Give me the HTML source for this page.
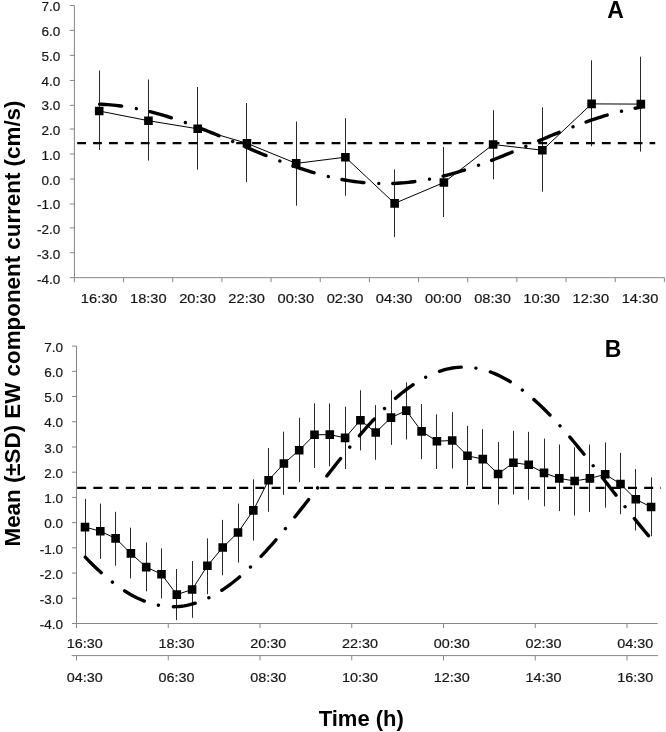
<!DOCTYPE html>
<html><head><meta charset="utf-8"><style>
html,body{margin:0;padding:0;background:#fff;}
svg{display:block;will-change:transform;}
.tl{font-family:"Liberation Sans",sans-serif;font-size:13.5px;fill:#151515;stroke:#151515;stroke-width:0.2px;}
.big{font-family:"Liberation Sans",sans-serif;font-size:23px;font-weight:bold;fill:#000;}
.ttl{font-family:"Liberation Sans",sans-serif;font-size:22.5px;font-weight:bold;fill:#000;}
.ttl2{font-family:"Liberation Sans",sans-serif;font-size:22px;font-weight:bold;fill:#000;}
</style></head><body>
<svg width="666" height="732" viewBox="0 0 666 732">
<path d="M74.4 5.5 V277.66 H664.4" fill="none" stroke="#868686" stroke-width="1"/>
<path d="M69.9 5.50 H74.4 M69.9 30.40 H74.4 M69.9 55.40 H74.4 M69.9 80.45 H74.4 M69.9 105.36 H74.4 M69.9 129.00 H74.4 M69.9 154.00 H74.4 M69.9 179.00 H74.4 M69.9 203.95 H74.4 M69.9 227.90 H74.4 M69.9 252.70 H74.4 M69.9 277.66 H74.4 M74.40 277.66 V282.16 M123.57 277.66 V282.16 M172.73 277.66 V282.16 M221.90 277.66 V282.16 M271.07 277.66 V282.16 M320.23 277.66 V282.16 M369.40 277.66 V282.16 M418.57 277.66 V282.16 M467.73 277.66 V282.16 M516.90 277.66 V282.16 M566.07 277.66 V282.16 M615.23 277.66 V282.16 M664.40 277.66 V282.16" fill="none" stroke="#868686" stroke-width="1"/>
<text x="60.2" y="11.40" class="tl" text-anchor="end">7.0</text>
<text x="60.2" y="36.14" class="tl" text-anchor="end">6.0</text>
<text x="60.2" y="60.88" class="tl" text-anchor="end">5.0</text>
<text x="60.2" y="85.63" class="tl" text-anchor="end">4.0</text>
<text x="60.2" y="110.37" class="tl" text-anchor="end">3.0</text>
<text x="60.2" y="135.11" class="tl" text-anchor="end">2.0</text>
<text x="60.2" y="159.85" class="tl" text-anchor="end">1.0</text>
<text x="60.2" y="184.59" class="tl" text-anchor="end">0.0</text>
<text x="60.2" y="209.33" class="tl" text-anchor="end">-1.0</text>
<text x="60.2" y="234.08" class="tl" text-anchor="end">-2.0</text>
<text x="60.2" y="258.82" class="tl" text-anchor="end">-3.0</text>
<text x="60.2" y="283.56" class="tl" text-anchor="end">-4.0</text>
<text x="99.18" y="302.9" class="tl" text-anchor="middle" textLength="36.6" lengthAdjust="spacingAndGlyphs">16:30</text>
<text x="148.35" y="302.9" class="tl" text-anchor="middle" textLength="36.6" lengthAdjust="spacingAndGlyphs">18:30</text>
<text x="197.52" y="302.9" class="tl" text-anchor="middle" textLength="36.6" lengthAdjust="spacingAndGlyphs">20:30</text>
<text x="246.68" y="302.9" class="tl" text-anchor="middle" textLength="36.6" lengthAdjust="spacingAndGlyphs">22:30</text>
<text x="295.85" y="302.9" class="tl" text-anchor="middle" textLength="36.6" lengthAdjust="spacingAndGlyphs">00:30</text>
<text x="345.02" y="302.9" class="tl" text-anchor="middle" textLength="36.6" lengthAdjust="spacingAndGlyphs">02:30</text>
<text x="394.18" y="302.9" class="tl" text-anchor="middle" textLength="36.6" lengthAdjust="spacingAndGlyphs">04:30</text>
<text x="443.35" y="302.9" class="tl" text-anchor="middle" textLength="36.6" lengthAdjust="spacingAndGlyphs">00:00</text>
<text x="492.52" y="302.9" class="tl" text-anchor="middle" textLength="36.6" lengthAdjust="spacingAndGlyphs">08:30</text>
<text x="541.68" y="302.9" class="tl" text-anchor="middle" textLength="36.6" lengthAdjust="spacingAndGlyphs">10:30</text>
<text x="590.85" y="302.9" class="tl" text-anchor="middle" textLength="36.6" lengthAdjust="spacingAndGlyphs">12:30</text>
<text x="640.02" y="302.9" class="tl" text-anchor="middle" textLength="36.6" lengthAdjust="spacingAndGlyphs">14:30</text>
<path d="M99.5 70.5 V150.0 M148.5 79.5 V160.6 M197.5 87.0 V169.6 M246.5 103.0 V182.0 M296.5 121.5 V205.7 M345.5 118.2 V195.8 M394.5 169.4 V237.1 M443.5 147.0 V217.0 M493.5 110.2 V179.3 M542.5 107.3 V191.7 M591.5 60.3 V146.3 M640.5 56.7 V151.6" stroke="#2a2a2a" stroke-width="1" fill="none"/>
<path d="M77.2 143.2 H655.2" stroke="#000" stroke-width="2.3" stroke-dasharray="8.8 7.1" fill="none"/>
<polyline points="99.2,111.0 148.4,120.7 197.7,128.8 246.9,143.3 296.2,163.4 345.4,157.2 394.6,203.4 443.9,182.5 493.1,144.5 542.4,150.2 591.6,103.9 640.8,104.1" fill="none" stroke="#000" stroke-width="1"/>
<polyline points="99.60,104.16 102.31,104.29 105.02,104.44 107.73,104.63 110.43,104.85 113.14,105.10 115.85,105.39 118.56,105.70 121.27,106.05 123.98,106.43 126.68,106.85 129.39,107.29 132.10,107.76 134.81,108.27 137.52,108.80 140.23,109.37 142.94,109.96 145.64,110.58 148.35,111.23 151.06,111.90 153.77,112.61 156.48,113.34 159.19,114.09 161.90,114.87 164.60,115.67 167.31,116.50 170.02,117.35 172.73,118.22 175.44,119.12 178.15,120.03 180.85,120.97 183.56,121.92 186.27,122.89 188.98,123.88 191.69,124.89 194.40,125.91 197.11,126.95 199.81,128.00 202.52,129.06 205.23,130.14 207.94,131.23 210.65,132.32 213.36,133.43 216.07,134.55 218.77,135.68 221.48,136.81 224.19,137.94 226.90,139.09 229.61,140.23 232.32,141.38 235.02,142.53 237.73,143.69 240.44,144.84 243.15,145.99 245.86,147.14 248.57,148.29 251.28,149.43 253.98,150.57 256.69,151.70 259.40,152.83 262.11,153.95 264.82,155.06 267.53,156.16 270.24,157.25 272.94,158.33 275.65,159.39 278.36,160.45 281.07,161.49 283.78,162.51 286.49,163.52 289.19,164.52 291.90,165.49 294.61,166.45 297.32,167.39 300.03,168.30 302.74,169.20 305.45,170.08 308.15,170.93 310.86,171.77 313.57,172.57 316.28,173.36 318.99,174.12 321.70,174.85 324.41,175.56 327.11,176.24 329.82,176.89 332.53,177.52 335.24,178.12 337.95,178.69 340.66,179.23 343.36,179.74 346.07,180.22 348.78,180.67 351.49,181.09 354.20,181.47 356.91,181.83 359.62,182.15 362.32,182.45 365.03,182.71 367.74,182.93 370.45,183.13 373.16,183.29 375.87,183.41 378.58,183.51 381.28,183.57 383.99,183.60 386.70,183.59 389.41,183.55 392.12,183.48 394.83,183.38 397.53,183.24 400.24,183.07 402.95,182.86 405.66,182.62 408.37,182.35 411.08,182.05 413.79,181.72 416.49,181.35 419.20,180.95 421.91,180.52 424.62,180.06 427.33,179.57 430.04,179.05 432.75,178.50 435.45,177.93 438.16,177.32 440.87,176.68 443.58,176.02 446.29,175.33 449.00,174.61 451.70,173.87 454.41,173.10 457.12,172.31 459.83,171.49 462.54,170.65 465.25,169.79 467.96,168.91 470.66,168.00 473.37,167.08 476.08,166.13 478.79,165.17 481.50,164.19 484.21,163.19 486.92,162.18 489.62,161.15 492.33,160.10 495.04,159.04 497.75,157.97 500.46,156.89 503.17,155.80 505.87,154.69 508.58,153.58 511.29,152.46 514.00,151.33 516.71,150.19 519.42,149.05 522.13,147.91 524.83,146.76 527.54,145.61 530.25,144.46 532.96,143.31 535.67,142.15 538.38,141.00 541.09,139.85 543.79,138.71 546.50,137.57 549.21,136.43 551.92,135.30 554.63,134.18 557.34,133.07 560.04,131.96 562.75,130.87 565.46,129.78 568.17,128.71 570.88,127.65 573.59,126.60 576.30,125.57 579.00,124.55 581.71,123.55 584.42,122.57 587.13,121.60 589.84,120.66 592.55,119.73 595.26,118.82 597.96,117.93 600.67,117.07 603.38,116.23 606.09,115.41 608.80,114.61 611.51,113.84 614.21,113.09 616.92,112.37 619.63,111.68 622.34,111.01 625.05,110.37 627.76,109.76 630.47,109.18 633.17,108.62 635.88,108.10 638.59,107.60 641.30,107.14" fill="none" stroke="#000" stroke-width="3.4" stroke-linecap="round" stroke-dasharray="22.2 14.87 0.01 13.92"/>
<path d="M94.90 106.70h8.6v8.6h-8.6z M144.14 116.40h8.6v8.6h-8.6z M193.38 124.50h8.6v8.6h-8.6z M242.62 139.00h8.6v8.6h-8.6z M291.86 159.10h8.6v8.6h-8.6z M341.10 152.90h8.6v8.6h-8.6z M390.34 199.10h8.6v8.6h-8.6z M439.58 178.20h8.6v8.6h-8.6z M488.82 140.20h8.6v8.6h-8.6z M538.06 145.90h8.6v8.6h-8.6z M587.30 99.60h8.6v8.6h-8.6z M636.54 99.80h8.6v8.6h-8.6z" fill="#000"/>
<text x="607.2" y="17.5" class="big">A</text>
<path d="M76.5 346.1 V623.5 H657.6 M71.7 655.6 H658.0" fill="none" stroke="#868686" stroke-width="1"/>
<path d="M72.0 346.10 H76.5 M72.0 371.32 H76.5 M72.0 396.54 H76.5 M72.0 421.75 H76.5 M72.0 446.97 H76.5 M72.0 472.19 H76.5 M72.0 497.41 H76.5 M72.0 522.63 H76.5 M72.0 547.85 H76.5 M72.0 573.06 H76.5 M72.0 598.28 H76.5 M72.0 623.50 H76.5 M76.50 623.5 V628.0 M76.50 655.6 V660.4 M168.25 623.5 V628.0 M168.25 655.6 V660.4 M260.01 623.5 V628.0 M260.01 655.6 V660.4 M351.76 623.5 V628.0 M351.76 655.6 V660.4 M443.51 623.5 V628.0 M443.51 655.6 V660.4 M535.26 623.5 V628.0 M535.26 655.6 V660.4 M627.02 623.5 V628.0 M627.02 655.6 V660.4" fill="none" stroke="#868686" stroke-width="1"/>
<text x="63" y="351.75" class="tl" text-anchor="end">7.0</text>
<text x="63" y="376.97" class="tl" text-anchor="end">6.0</text>
<text x="63" y="402.19" class="tl" text-anchor="end">5.0</text>
<text x="63" y="427.40" class="tl" text-anchor="end">4.0</text>
<text x="63" y="452.62" class="tl" text-anchor="end">3.0</text>
<text x="63" y="477.84" class="tl" text-anchor="end">2.0</text>
<text x="63" y="503.06" class="tl" text-anchor="end">1.0</text>
<text x="63" y="528.28" class="tl" text-anchor="end">0.0</text>
<text x="63" y="553.50" class="tl" text-anchor="end">-1.0</text>
<text x="63" y="578.71" class="tl" text-anchor="end">-2.0</text>
<text x="63" y="603.93" class="tl" text-anchor="end">-3.0</text>
<text x="63" y="629.15" class="tl" text-anchor="end">-4.0</text>
<text x="84.75" y="648.4" class="tl" text-anchor="middle" textLength="36" lengthAdjust="spacingAndGlyphs">16:30</text>
<text x="84.75" y="681.8" class="tl" text-anchor="middle" textLength="36" lengthAdjust="spacingAndGlyphs">04:30</text>
<text x="176.50" y="648.4" class="tl" text-anchor="middle" textLength="36" lengthAdjust="spacingAndGlyphs">18:30</text>
<text x="176.50" y="681.8" class="tl" text-anchor="middle" textLength="36" lengthAdjust="spacingAndGlyphs">06:30</text>
<text x="268.25" y="648.4" class="tl" text-anchor="middle" textLength="36" lengthAdjust="spacingAndGlyphs">20:30</text>
<text x="268.25" y="681.8" class="tl" text-anchor="middle" textLength="36" lengthAdjust="spacingAndGlyphs">08:30</text>
<text x="360.00" y="648.4" class="tl" text-anchor="middle" textLength="36" lengthAdjust="spacingAndGlyphs">22:30</text>
<text x="360.00" y="681.8" class="tl" text-anchor="middle" textLength="36" lengthAdjust="spacingAndGlyphs">10:30</text>
<text x="451.76" y="648.4" class="tl" text-anchor="middle" textLength="36" lengthAdjust="spacingAndGlyphs">00:30</text>
<text x="451.76" y="681.8" class="tl" text-anchor="middle" textLength="36" lengthAdjust="spacingAndGlyphs">12:30</text>
<text x="543.51" y="648.4" class="tl" text-anchor="middle" textLength="36" lengthAdjust="spacingAndGlyphs">02:30</text>
<text x="543.51" y="681.8" class="tl" text-anchor="middle" textLength="36" lengthAdjust="spacingAndGlyphs">14:30</text>
<text x="635.26" y="648.4" class="tl" text-anchor="middle" textLength="36" lengthAdjust="spacingAndGlyphs">04:30</text>
<text x="635.26" y="681.8" class="tl" text-anchor="middle" textLength="36" lengthAdjust="spacingAndGlyphs">16:30</text>
<path d="M85.5 498.9 V555.8 M100.5 503.6 V558.9 M115.5 511.8 V565.7 M130.5 527.7 V578.4 M146.5 542.5 V591.3 M161.5 548.4 V598.5 M176.5 569.0 V620.1 M192.5 561.0 V617.8 M207.5 538.4 V594.1 M222.5 519.9 V575.3 M238.5 503.6 V562.6 M253.5 479.3 V540.6 M268.5 448.0 V511.8 M283.5 431.7 V494.8 M299.5 417.8 V482.1 M314.5 403.3 V468.0 M329.5 403.4 V466.3 M345.5 406.7 V469.0 M360.5 390.3 V450.4 M375.5 405.1 V459.8 M391.5 390.3 V444.9 M406.5 382.4 V439.5 M421.5 404.0 V459.1 M436.5 414.3 V469.0 M452.5 412.1 V468.5 M467.5 425.9 V485.4 M482.5 429.2 V488.6 M498.5 442.1 V504.5 M513.5 430.8 V494.5 M528.5 431.8 V499.8 M544.5 438.6 V506.3 M559.5 444.5 V511.1 M574.5 447.3 V515.5 M589.5 444.5 V512.1 M605.5 442.4 V507.7 M620.5 452.9 V514.2 M635.5 469.1 V530.5 M651.5 477.3 V536.2" stroke="#2a2a2a" stroke-width="1" fill="none"/>
<path d="M77.2 487.9 H661" stroke="#000" stroke-width="2.3" stroke-dasharray="9 7.2" fill="none"/>
<polyline points="85.0,527.1 100.3,531.2 115.6,538.4 130.9,553.4 146.2,567.1 161.5,574.2 176.8,594.6 192.1,589.5 207.4,565.8 222.7,547.5 238.0,532.5 253.3,510.4 268.6,480.2 283.9,463.5 299.2,450.2 314.5,434.8 329.8,434.6 345.1,437.9 360.4,420.2 375.7,432.5 391.0,417.6 406.3,410.6 421.6,431.4 436.9,441.2 452.2,440.5 467.5,455.8 482.8,459.1 498.1,474.0 513.4,462.7 528.7,464.8 544.0,472.9 559.3,478.4 574.6,481.0 589.9,478.4 605.2,474.3 620.5,484.0 635.8,499.3 651.1,507.0" fill="none" stroke="#000" stroke-width="1"/>
<polyline points="85.30,557.17 88.12,560.09 90.95,562.95 93.77,565.73 96.59,568.44 99.42,571.08 102.24,573.63 105.06,576.11 107.89,578.51 110.71,580.81 113.53,583.04 116.36,585.17 119.18,587.21 122.01,589.16 124.83,591.01 127.65,592.77 130.48,594.43 133.30,595.99 136.12,597.44 138.95,598.80 141.77,600.05 144.59,601.20 147.42,602.24 150.24,603.17 153.06,603.99 155.89,604.71 158.71,605.32 161.53,605.82 164.36,606.20 167.18,606.48 170.00,606.65 172.83,606.70 175.65,606.64 178.48,606.48 181.30,606.20 184.12,605.81 186.95,605.31 189.77,604.70 192.59,603.98 195.42,603.15 198.24,602.22 201.06,601.17 203.89,600.03 206.71,598.77 209.53,597.41 212.36,595.96 215.18,594.39 218.00,592.73 220.83,590.97 223.65,589.12 226.48,587.17 229.30,585.13 232.12,582.99 234.95,580.77 237.77,578.46 240.59,576.06 243.42,573.58 246.24,571.02 249.06,568.39 251.89,565.68 254.71,562.89 257.53,560.03 260.36,557.11 263.18,554.12 266.00,551.07 268.83,547.96 271.65,544.79 274.47,541.57 277.30,538.30 280.12,534.98 282.94,531.61 285.77,528.21 288.59,524.76 291.42,521.29 294.24,517.77 297.06,514.23 299.89,510.67 302.71,507.08 305.53,503.48 308.36,499.86 311.18,496.22 314.00,492.58 316.83,488.93 319.65,485.28 322.47,481.64 325.30,477.99 328.12,474.36 330.94,470.74 333.77,467.13 336.59,463.54 339.42,459.97 342.24,456.43 345.06,452.91 347.89,449.43 350.71,445.98 353.53,442.57 356.36,439.20 359.18,435.88 362.00,432.60 364.83,429.37 367.65,426.20 370.47,423.08 373.30,420.02 376.12,417.03 378.94,414.10 381.77,411.23 384.59,408.44 387.41,405.72 390.24,403.07 393.06,400.50 395.89,398.02 398.71,395.61 401.53,393.29 404.36,391.06 407.18,388.91 410.00,386.86 412.83,384.90 415.65,383.03 418.47,381.26 421.30,379.59 424.12,378.02 426.94,376.55 429.77,375.18 432.59,373.91 435.41,372.75 438.24,371.70 441.06,370.75 443.88,369.91 446.71,369.18 449.53,368.56 452.36,368.04 455.18,367.64 458.00,367.35 460.83,367.17 463.65,367.10 466.47,367.14 469.30,367.30 472.12,367.56 474.94,367.93 477.77,368.42 480.59,369.01 483.41,369.72 486.24,370.53 489.06,371.45 491.88,372.48 494.71,373.61 497.53,374.85 500.35,376.20 503.18,377.64 506.00,379.19 508.82,380.84 511.65,382.58 514.47,384.43 517.30,386.36 520.12,388.39 522.94,390.52 525.77,392.73 528.59,395.03 531.41,397.41 534.24,399.88 537.06,402.43 539.88,405.05 542.71,407.76 545.53,410.53 548.35,413.38 551.18,416.29 554.00,419.27 556.82,422.32 559.65,425.42 562.47,428.58 565.30,431.79 568.12,435.06 570.94,438.37 573.77,441.73 576.59,445.13 579.41,448.57 582.24,452.04 585.06,455.55 587.88,459.09 590.71,462.65 593.53,466.23 596.35,469.84 599.18,473.46 602.00,477.09 604.82,480.73 607.65,484.38 610.47,488.03 613.29,491.67 616.12,495.32 618.94,498.95 621.76,502.58 624.59,506.19 627.41,509.78 630.24,513.35 633.06,516.90 635.88,520.42 638.71,523.90 641.53,527.36 644.35,530.77 647.18,534.15 650.00,537.48" fill="none" stroke="#000" stroke-width="3.4" stroke-linecap="round" stroke-dasharray="22.2 14.72 0.01 15.01"/>
<path d="M80.70 522.80h8.6v8.6h-8.6z M96.00 526.90h8.6v8.6h-8.6z M111.30 534.10h8.6v8.6h-8.6z M126.60 549.10h8.6v8.6h-8.6z M141.90 562.80h8.6v8.6h-8.6z M157.20 569.90h8.6v8.6h-8.6z M172.50 590.30h8.6v8.6h-8.6z M187.80 585.20h8.6v8.6h-8.6z M203.10 561.50h8.6v8.6h-8.6z M218.40 543.20h8.6v8.6h-8.6z M233.70 528.20h8.6v8.6h-8.6z M249.00 506.10h8.6v8.6h-8.6z M264.30 475.90h8.6v8.6h-8.6z M279.60 459.20h8.6v8.6h-8.6z M294.90 445.90h8.6v8.6h-8.6z M310.20 430.50h8.6v8.6h-8.6z M325.50 430.30h8.6v8.6h-8.6z M340.80 433.60h8.6v8.6h-8.6z M356.10 415.90h8.6v8.6h-8.6z M371.40 428.20h8.6v8.6h-8.6z M386.70 413.30h8.6v8.6h-8.6z M402.00 406.30h8.6v8.6h-8.6z M417.30 427.10h8.6v8.6h-8.6z M432.60 436.90h8.6v8.6h-8.6z M447.90 436.20h8.6v8.6h-8.6z M463.20 451.50h8.6v8.6h-8.6z M478.50 454.80h8.6v8.6h-8.6z M493.80 469.70h8.6v8.6h-8.6z M509.10 458.40h8.6v8.6h-8.6z M524.40 460.50h8.6v8.6h-8.6z M539.70 468.60h8.6v8.6h-8.6z M555.00 474.10h8.6v8.6h-8.6z M570.30 476.70h8.6v8.6h-8.6z M585.60 474.10h8.6v8.6h-8.6z M600.90 470.00h8.6v8.6h-8.6z M616.20 479.70h8.6v8.6h-8.6z M631.50 495.00h8.6v8.6h-8.6z M646.80 502.70h8.6v8.6h-8.6z" fill="#000"/>
<text x="604.8" y="356.6" class="big">B</text>
<text class="ttl" transform="translate(19.7 323.5) rotate(-90)" text-anchor="middle" textLength="446" lengthAdjust="spacingAndGlyphs">Mean (±SD) EW component current (cm/s)</text>
<text class="ttl2" x="361.3" y="725.6" text-anchor="middle">Time (h)</text>
</svg>
</body></html>
